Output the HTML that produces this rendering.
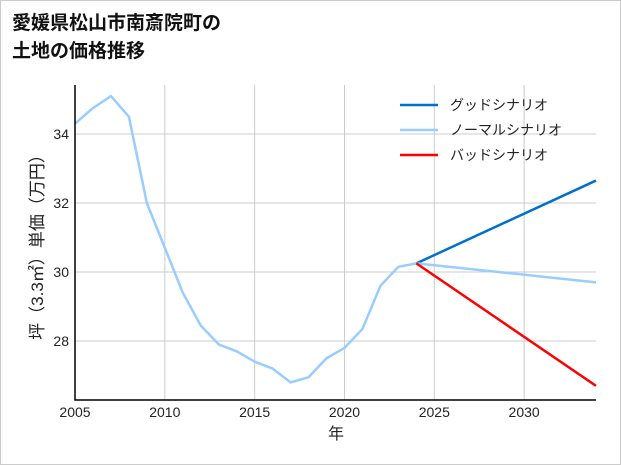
<!DOCTYPE html>
<html><head><meta charset="utf-8"><style>
body{margin:0;background:#fff;}
svg{display:block;font-family:"Liberation Sans","Noto Sans CJK JP",sans-serif;}
</style></head><body>
<svg id="c" width="621" height="465">
<rect x="0.5" y="0.5" width="620" height="464" fill="#fff" stroke="#ccc"/>
<text x="12" y="29" font-size="19" font-weight="bold" fill="#111">愛媛県松山市南斎院町の</text>
<text x="12" y="57" font-size="19" font-weight="bold" fill="#111">土地の価格推移</text>
<g id="grid"></g><g id="series"></g><g id="axes"></g>
<text x="336" y="439" font-size="16" text-anchor="middle" fill="#222">年</text>
<text transform="translate(43,243) rotate(-90)" font-size="17" text-anchor="middle" fill="#222">坪（3.3㎡）単価（万円）</text>
<g id="legend"></g>
</svg>
<script>
const years=[2005,2006,2007,2008,2009,2010,2011,2012,2013,2014,2015,2016,2017,2018,2019,2020,2021,2022,2023,2024];
const prices=[34.3,34.75,35.1,34.5,32.0,30.7,29.4,28.45,27.9,27.7,27.4,27.2,26.8,26.95,27.5,27.8,28.35,29.6,30.15,30.25];
const scenarioYears=[2024,2034];
const goodValues=[30.25,32.65];
const normalValues=[30.25,29.7];
const badValues=[30.25,26.7];
const xTicks=[2005,2010,2015,2020,2025,2030];
const yTicks=[28,30,32,34];
const seriesNames=["グッドシナリオ","ノーマルシナリオ","バッドシナリオ"];
const L=75,R=596,T=85,B=400,x0=2005,x1=2034,y0=26.29,y1=35.42;
const X=v=>L+(v-x0)/(x1-x0)*(R-L);
const Y=v=>B-(v-y0)/(y1-y0)*(B-T);
const NS="http://www.w3.org/2000/svg";
function mk(t,a,p){const e=document.createElementNS(NS,t);for(const k in a)e.setAttribute(k,a[k]);document.getElementById(p).appendChild(e);return e;}
xTicks.forEach(t=>{
 const g=mk('line',{x1:X(t),x2:X(t),y1:T,y2:B,stroke:'#ccc','stroke-width':1},'grid');
 
 
 const l=mk('text',{x:X(t),y:B+17,'font-size':14,'text-anchor':'middle',fill:'#222'},'axes');
 l.textContent=t;
 
 
});
yTicks.forEach(t=>{
 const g=mk('line',{x1:L,x2:R,y1:Y(t),y2:Y(t),stroke:'#ccc','stroke-width':1},'grid');
 
 
 const l=mk('text',{x:L-6,y:Y(t)+5,'font-size':14,'text-anchor':'end',fill:'#222'},'axes');
 l.textContent=t;
 
 
});
const ax=mk('path',{d:`M${L},${T}V${B}H${R}`,fill:'none',stroke:'#000','stroke-width':1.5},'axes');


function line(xs,ys,col,name){
 const p=mk('polyline',{points:xs.map((x,i)=>X(x)+','+Y(ys[i])).join(' '),fill:'none',stroke:col,'stroke-width':2.5,'stroke-linejoin':'round'},'series');
 
 
}
line(years,prices,'#99ccff','historical-price-line');
line(scenarioYears,goodValues,'#0070cc','good-scenario-line');
line(scenarioYears,normalValues,'#99ccff','normal-scenario-line');
line(scenarioYears,badValues,'#ff0000','bad-scenario-line');
const cols=['#0070cc','#99ccff','#ff0000'];
seriesNames.forEach((n,i)=>{
 const y=105+i*25;
 const l=mk('line',{x1:400,x2:438,y1:y,y2:y,stroke:cols[i],'stroke-width':2.5},'legend');
 
 
 const t=mk('text',{x:450,y:y+5,'font-size':14,fill:'#222'},'legend');
 t.textContent=n;
 
 
});
</script>
</body></html>
